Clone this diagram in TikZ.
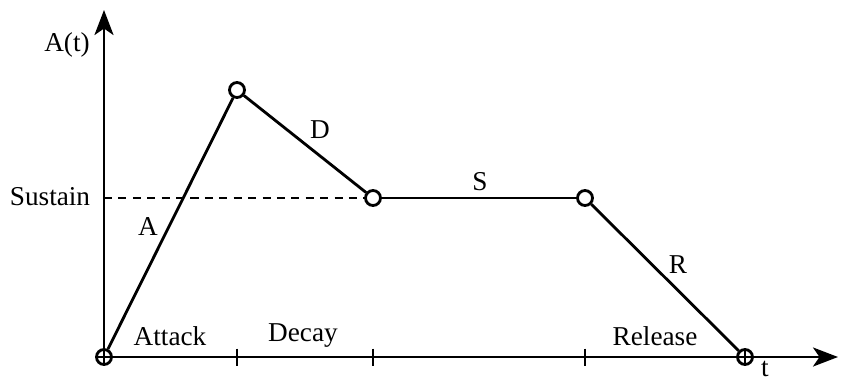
\documentclass[tikz,border=0pt]{standalone}
\usepackage{fontspec}
\setmainfont{Liberation Serif}
\usetikzlibrary{arrows.meta}

\begin{document}
\begin{tikzpicture}[line join=round,
    axis/.style={line width=1.6pt, -{Stealth[length=0.5cm, width=0.38cm, inset=0.13cm]}},
    seg/.style={line width=1.6pt},
    sus/.style={line width=1.6pt, dash pattern=on 4.6pt off 3.6pt},
    knot/.style={circle, draw, fill=white, line width=1.6pt, minimum size=0.3cm, inner sep=0pt},
    zero/.style={knot, path picture={
        \draw[line width=1.6pt] (path picture bounding box.north) -- (path picture bounding box.south);
        \draw[line width=1.6pt] (path picture bounding box.west) -- (path picture bounding box.east);}},
    lbl/.style={inner sep=1pt, font=\fontsize{15.5}{18}\selectfont}]
  \useasboundingbox (-2.08,-0.5) rectangle (14.76,7.14);
  % axes
  \coordinate (O) at (0,0);
  \coordinate (ytop) at (0,6.94);
  \coordinate (xend) at (14.68,0);
  \coordinate (slev) at (0,3.18);
  \draw[axis] (O) -- (ytop);
  \draw[axis] (O) -- (xend);
  \foreach \x in {2.66,5.38,9.62}
    \draw[line width=1.6pt] (\x,0.17) -- (\x,-0.18);
  % envelope points
  \node[zero] (start) at (0,0) {};
  \node[knot] (peak) at (2.66,5.34) {};
  \node[knot] (dec) at (5.38,3.18) {};
  \node[knot] (rel) at (9.62,3.18) {};
  \node[zero] (stop) at (12.82,0) {};
  \draw[sus] (slev) -- (dec);
  \draw[seg] (start) -- (peak);
  \draw[seg] (peak) -- (dec);
  \draw[seg] (dec) -- (rel);
  \draw[seg] (rel) -- (stop);
  % labels
  \node[lbl] (yl) at (-0.74,6.24) {A(t)};
  \node[lbl] (sl) at (-1.08,3.2) {Sustain};
  \node[lbl] (la) at (0.88,2.6) {A};
  \node[lbl] (ld) at (4.32,4.54) {D};
  \node[lbl] (ls) at (7.52,3.5) {S};
  \node[lbl] (lr) at (11.48,1.84) {R};
  \node[lbl] (att) at (1.32,0.42) {Attack};
  \node[lbl] (dcy) at (3.98,0.42) {Decay};
  \node[lbl] (rls) at (11.02,0.42) {Release};
  \node[lbl] (tl) at (13.22,-0.24) {t};
\end{tikzpicture}
\end{document}
